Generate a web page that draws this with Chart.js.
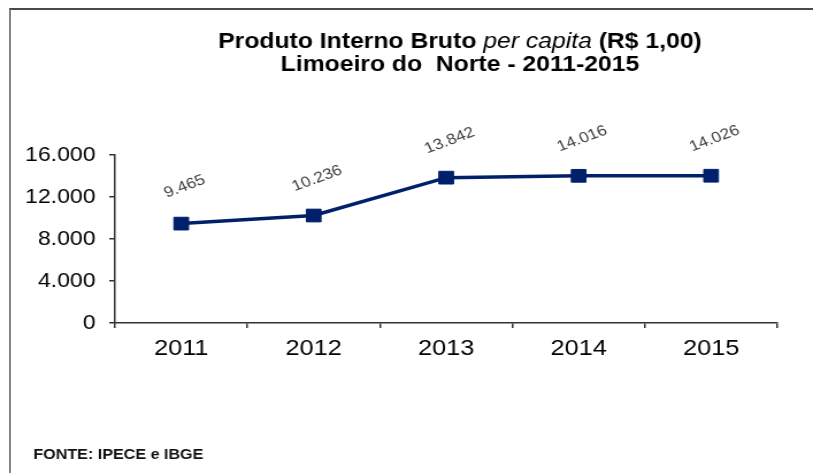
<!DOCTYPE html>
<html>
<head>
<meta charset="utf-8">
<script src="https://cdn.jsdelivr.net/npm/chart.js@4"></script>
<style>
  body { margin: 0; background: #fff; overflow: hidden; }
  #wrap { position: relative; width: 813px; height: 473px; }
  #c { position: absolute; left: 0; top: 0; width: 813px !important; height: 473px !important; }
  #frame { position: absolute; left: 9px; top: 8px; right: 0; height: 480px;
           border-top: 2px solid #4a4a4a; border-left: 2px solid #858585; pointer-events: none; }
</style>
</head>
<body>
<div id="wrap">
  <canvas id="c" width="707" height="473"></canvas>
  <div id="frame"></div>
</div>
<script>
const years = ["2011", "2012", "2013", "2014", "2015"];
const pibPerCapita = [9465, 10236, 13842, 14016, 14026];
const yTicks = [0, 4000, 8000, 12000, 16000];

function fmt(v) {
  return String(v).replace(/\B(?=(\d{3})+(?!\d))/g, ".");
}

// rotated value labels above each point
const valueLabels = {
  id: "valueLabels",
  afterDatasetsDraw(chart) {
    const ctx = chart.ctx;
    const meta = chart.getDatasetMeta(0);
    ctx.save();
    ctx.font = "15px Arial, 'Liberation Sans', sans-serif";
    ctx.fillStyle = "#404040";
    ctx.textAlign = "center";
    ctx.textBaseline = "middle";
    meta.data.forEach((pt, i) => {
      ctx.save();
      ctx.translate(pt.x + 3, pt.y - 37);
      ctx.rotate(-23 * Math.PI / 180);
      ctx.fillText(fmt(pibPerCapita[i]), 0, 0);
      ctx.restore();
    });
    ctx.restore();
  },
};

// title with italic part and source note
const texts = {
  id: "texts",
  afterDraw(chart) {
    const ctx = chart.ctx;
    const cx = 400;
    const fam = "Arial, 'Liberation Sans', sans-serif";
    ctx.save();
    ctx.fillStyle = "#000";
    ctx.textBaseline = "alphabetic";
    const parts = [
      ["Produto Interno Bruto ", "bold 21.5px " + fam],
      ["per capita", "italic 21.5px " + fam],
      [" (R$ 1,00)", "bold 21.5px " + fam],
    ];
    let total = 0;
    parts.forEach((p) => { ctx.font = p[1]; total += ctx.measureText(p[0]).width; });
    let x = cx - total / 2;
    ctx.textAlign = "left";
    parts.forEach((p) => {
      ctx.font = p[1];
      ctx.fillText(p[0], x, 48);
      x += ctx.measureText(p[0]).width;
    });
    ctx.textAlign = "center";
    ctx.font = "bold 21.5px " + fam;
    ctx.fillText("Limoeiro do  Norte - 2011-2015", cx, 71);

    ctx.textAlign = "left";
    ctx.font = "bold 14px " + fam;
    ctx.fillStyle = "#111";
    ctx.fillText("FONTE: IPECE e IBGE", 29, 459);
    ctx.restore();
  },
};

new Chart(document.getElementById("c"), {
  type: "line",
  data: {
    labels: years,
    datasets: [
      {
        data: pibPerCapita,
        borderColor: "#00206b",
        backgroundColor: "#00206b",
        borderWidth: 3.5,
        pointStyle: "rect",
        pointRadius: 9,
        pointBorderWidth: 1,
        pointBorderColor: "#00206b",
        pointBackgroundColor: "#00206b",
        tension: 0,
      },
    ],
  },
  options: {
    responsive: false,
    animation: false,
    devicePixelRatio: 1,
    layout: { padding: { left: 10, right: 31, top: 155, bottom: 100 } },
    plugins: { legend: { display: false }, tooltip: { enabled: false }, title: { display: false } },
    scales: {
      x: {
        offset: true,
        grid: { display: true, offset: true, drawOnChartArea: false, drawTicks: true, tickLength: 5, color: "#333", lineWidth: 1.5 },
        border: { display: true, color: "#333", width: 1.5 },
        ticks: { color: "#000", padding: 8, font: { family: "Arial, 'Liberation Sans', sans-serif", size: 22 } },
        afterFit(scale) { scale.height = 50; },
      },
      y: {
        min: 0,
        max: 16000,
        afterBuildTicks(scale) { scale.ticks = yTicks.map((v) => ({ value: v })); },
        grid: { display: true, drawOnChartArea: false, drawTicks: true, tickLength: 5, color: "#333", lineWidth: 1.5 },
        border: { display: true, color: "#333", width: 1.5 },
        ticks: {
          color: "#000",
          padding: 12,
          font: { family: "Arial, 'Liberation Sans', sans-serif", size: 20 },
          callback: (v) => fmt(v),
        },
        afterFit(scale) { scale.width = 90; },
      },
    },
  },
  plugins: [valueLabels, texts],
});
</script>
</body>
</html>
